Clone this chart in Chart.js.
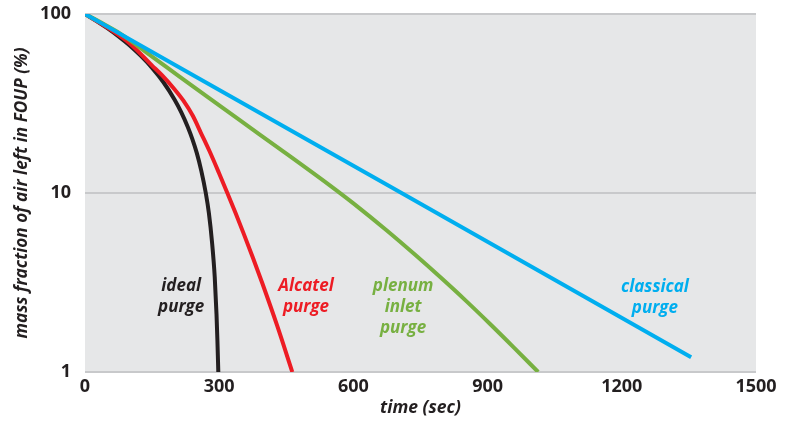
<!DOCTYPE html>
<html>
<head>
<meta charset="utf-8">
<script src="https://cdn.jsdelivr.net/npm/chart.js@4"></script>
<style>
  html, body { margin: 0; padding: 0; background: #ffffff; }
  #wrap { width: 791px; height: 421px; }
</style>
</head>
<body>
<div id="wrap"><canvas id="c" width="791" height="421"></canvas></div>
<script>
// ---- data (time in s, mass fraction in %) ----
const idealTime  = [0, 25, 50, 75, 100, 125, 150, 175, 200, 215, 230, 240, 250, 260, 270, 277, 284, 290, 294, 296, 298];
const idealValue = [100, 91.7, 83.3, 75, 66.7, 58.3, 50, 41.7, 33.3, 28.3, 23.3, 20, 16.7, 13.3, 10, 7.7, 5.3, 3.4, 2.1, 1.5, 1];

const alcatelTime  = [0, 50, 100, 150, 172, 200, 220, 241, 259, 278.5, 298.8, 318.2, 336.8, 354.5, 376, 396.6, 429.4, 463.4];
const alcatelValue = [100, 84, 68.5, 51.5, 45.5, 38, 32.8, 27, 21.7, 17.1, 13.06, 10, 7.7, 5.95, 4.31, 3.12, 1.82, 1];

const plenumTime  = [0, 40, 78, 150, 212, 280, 346, 436, 548, 600, 674, 740, 794, 850, 905, 960, 1013];
const plenumValue = [100, 88.5, 78, 57.8, 44.6, 33.6, 25.5, 17.6, 11, 8.75, 6.19, 4.47, 3.39, 2.52, 1.86, 1.36, 1];

const classicalTime  = [0, 678, 1355];
const classicalValue = [100, 11, 1.21];

const xTicks = [0, 300, 600, 900, 1200, 1500];
const yTicks = [1, 10, 100];

const xTitle = 'time (sec)';
const yTitle = 'mass fraction of air left in FOUP (%)';

const seriesNames = ['ideal purge', 'Alcatel purge', 'plenum inlet purge', 'classical purge'];

// label text lines and anchor (data units)
const labelLines = [['ideal', 'purge'], ['Alcatel', 'purge'], ['plenum', 'inlet', 'purge'], ['classical', 'purge']];
const labelTime  = [215, 494, 711, 1274];
const labelValue = [3.0, 3.0, 3.0, 2.97];

// ---- styles ----
const colors = ['#231f20', '#ed1c24', '#77b041', '#00aeef'];
const FONT = "'Open Sans', 'Noto Sans', sans-serif";
const INK = '#231f20';

function pts(t, v) { return t.map((x, i) => ({ x: x, y: v[i] })); }

const datasets = [
  pts(idealTime, idealValue),
  pts(alcatelTime, alcatelValue),
  pts(plenumTime, plenumValue),
  pts(classicalTime, classicalValue)
].map((d, i) => ({
  label: seriesNames[i],
  data: d,
  borderColor: colors[i],
  backgroundColor: colors[i],
  borderWidth: 4,
  pointRadius: 0,
  fill: false,
  cubicInterpolationMode: 'monotone',
  borderCapStyle: 'butt',
  borderJoinStyle: 'round'
})).reverse();

const bgPlugin = {
  id: 'plotBg',
  beforeDraw(chart) {
    const { ctx, chartArea: a } = chart;
    ctx.save();
    ctx.fillStyle = '#e6e7e8';
    ctx.fillRect(a.left, a.top, a.right - a.left, a.bottom - a.top);
    ctx.restore();
  }
};

const labelPlugin = {
  id: 'curveLabels',
  afterDatasetsDraw(chart) {
    const { ctx, scales } = chart;
    ctx.save();
    ctx.font = "italic bold 17px " + FONT;
    ctx.textAlign = 'center';
    ctx.textBaseline = 'middle';
    labelLines.forEach((lines, i) => {
      const x = scales.x.getPixelForValue(labelTime[i]);
      const y0 = scales.y.getPixelForValue(labelValue[i]);
      ctx.fillStyle = colors[i];
      lines.forEach((s, k) => ctx.fillText(s, x, y0 + k * 21));
    });
    ctx.restore();
  }
};

new Chart(document.getElementById('c'), {
  type: 'line',
  data: { datasets: datasets },
  options: {
    responsive: false,
    devicePixelRatio: 1,
    animation: false,
    layout: { padding: { left: 0, right: 35, top: 14, bottom: 0 } },
    plugins: { legend: { display: false }, tooltip: { enabled: false } },
    scales: {
      x: {
        type: 'linear',
        min: 0, max: 1500,
        afterBuildTicks: s => { s.ticks = xTicks.map(v => ({ value: v })); },
        afterFit: s => { s.height = 49; },
        grid: { display: false, drawTicks: false },
        border: { display: false },
        ticks: {
          color: INK, padding: 4,
          font: { family: FONT, size: 18, weight: 'bold' },
          callback: v => String(v),
          maxRotation: 0, autoSkip: false
        },
        title: {
          display: true, text: xTitle, color: INK,
          font: { family: FONT, size: 17.5, weight: 'bold', style: 'italic' },
          padding: { top: 0, bottom: 2 }
        }
      },
      y: {
        type: 'logarithmic',
        min: 1, max: 100,
        afterBuildTicks: s => { s.ticks = yTicks.map(v => ({ value: v, major: true })); },
        afterFit: s => { s.width = 85; s.paddingTop = 0; s.paddingBottom = 0; },
        grid: { color: '#c8c9cb', lineWidth: 2, drawTicks: false },
        border: { display: false },
        ticks: {
          color: INK, padding: 14,
          font: { family: FONT, size: 18, weight: 'bold' },
          callback: v => String(v), autoSkip: false
        },
        title: {
          display: true, text: yTitle, color: INK,
          font: { family: FONT, size: 17.2, weight: 'bold', style: 'italic' },
          padding: { top: 12, bottom: 0 }
        }
      }
    }
  },
  plugins: [bgPlugin, labelPlugin]
});
</script>
</body>
</html>
